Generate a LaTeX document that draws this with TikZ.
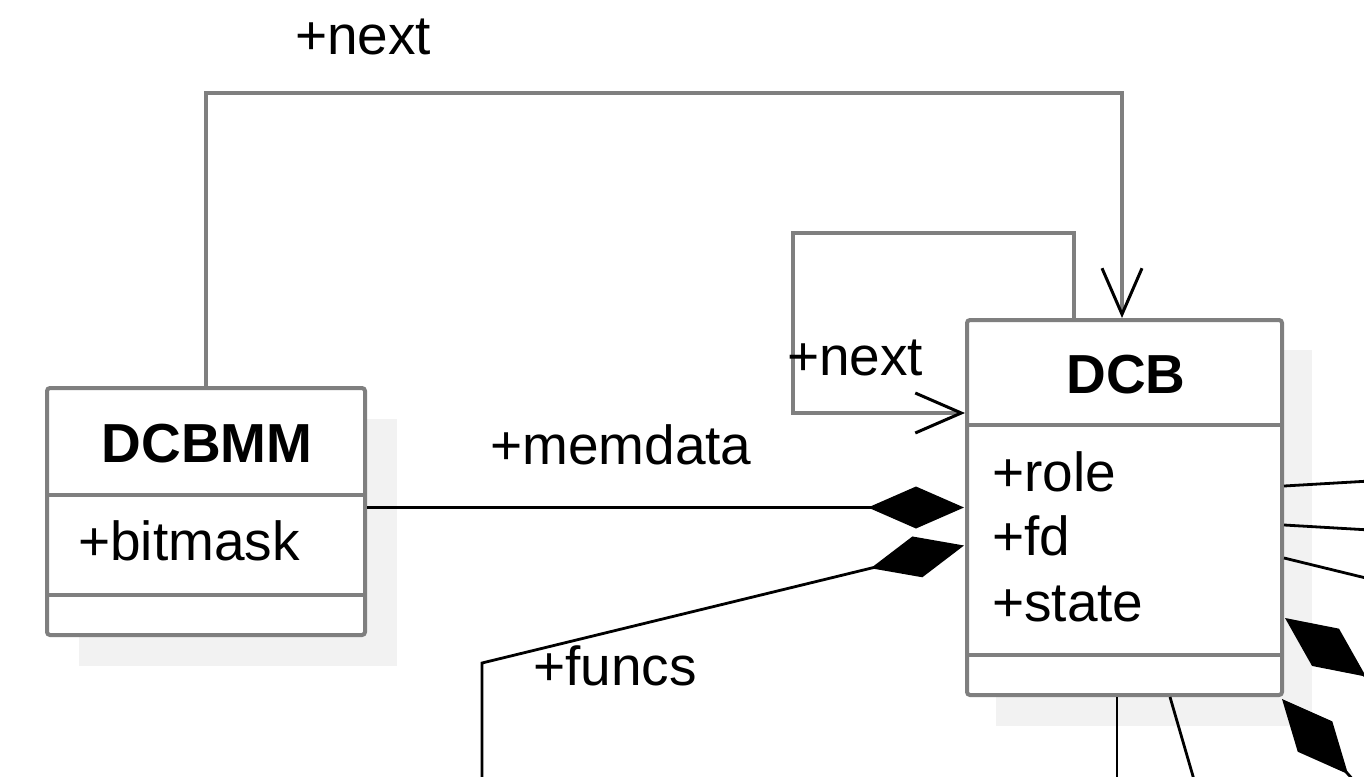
\documentclass[tikz,border=0pt]{standalone}
\usepackage{fontspec}
\setmainfont{Liberation Sans}
\usetikzlibrary{arrows.meta,calc}
\definecolor{edgegray}{HTML}{7F7F7F}
\definecolor{shadowgray}{HTML}{F2F2F2}
\tikzset{
  shadowbox/.style={fill=shadowgray, draw=none, inner sep=0pt},
  classbox/.style={draw=edgegray, line width=4pt, fill=white, rounded corners=3pt, inner sep=0pt},
  divider/.style={draw=edgegray, line width=4pt},
  member/.style={font=\fontsize{55}{66}\selectfont, inner sep=0pt, anchor=base west},
  classname/.style={font=\bfseries\fontsize{55}{66}\selectfont, inner sep=0pt, anchor=base},
  assoc/.style={draw=edgegray, line width=4.5pt,
    -{Straight Barb[length=46pt,width=40pt,line width=3pt,black]}},
  comp/.style={draw=black, line width=2.8pt,
    {Diamond[length=96pt,width=42pt,black]}-},
  widecomp/.style={draw=black, line width=2.8pt,
    {Diamond[length=100pt,width=46pt,black]}-},
  link/.style={draw=black, line width=2.8pt},
}
\begin{document}
\begin{tikzpicture}[x=1pt,y=-1pt]
  \useasboundingbox (0,0) rectangle (1364,776);
  \clip (0,0) rectangle (1364,776);

  % drop shadows
  \node[shadowbox, minimum width=318pt, minimum height=247pt] (dcbmmShadow) at (238,542.5) {};
  \node[shadowbox, minimum width=316pt, minimum height=376pt] (dcbShadow) at (1154,538) {};

  % class DCBMM
  \node[classbox, minimum width=318pt, minimum height=247pt] (dcbmm) at (206,511.5) {};
  \draw[divider] ($(dcbmm.north west)+(0,109)$) -- ($(dcbmm.north east)+(0,109)$);
  \draw[divider] ($(dcbmm.north west)+(0,209)$) -- ($(dcbmm.north east)+(0,209)$);
  \node[classname] (dcbmmName) at (207,462) {DCBMM};
  \node[member] (dcbmmBitmask) at (78,560) {+bitmask};

  % class DCB
  \node[classbox, minimum width=315pt, minimum height=375pt] (dcb) at (1124.5,507.5) {};
  \draw[divider] ($(dcb.north west)+(0,107)$) -- ($(dcb.north east)+(0,107)$);
  \draw[divider] ($(dcb.north west)+(0,337)$) -- ($(dcb.north east)+(0,337)$);
  \node[classname] (dcbName) at (1126,393) {DCB};
  \node[member] (dcbRole) at (992,491) {+role};
  \node[member] (dcbFd) at (992,555) {+fd};
  \node[member] (dcbState) at (992,621) {+state};

  % association DCBMM -> DCB
  \draw[assoc] (dcbmm.north) -- ++(0,-293) -| ($(dcb.north)+(-2.5,0)$);
  \node[member] (nextTop) at (295,55) {+next};

  % self association on DCB
  \draw[assoc] ($(dcb.north)+(-50.5,0)$) |- (793,233) |- ($(dcb.west)+(0,-94.5)$);
  \node[member] (nextSelf) at (787,375) {+next};

  % composition memdata
  \draw[comp] ($(dcb.west)+(-1,0)$) -- (dcb.west -| dcbmm.east);
  \node[member] (memdataLabel) at (490,464) {+memdata};

  % composition funcs
  \coordinate (funcsEnd) at (482,790);
  \draw[comp] ($(dcb.west)+(-1,38)$) -- (482,663) -- (funcsEnd);
  \node[member] (funcsLabel) at (533,685) {+funcs};

  % connectors leaving to the right and below
  \coordinate (outA) at (1370,481);
  \coordinate (outB) at (1370,530);
  \coordinate (outC) at (1370,579);
  \coordinate (outD) at (1444,733);
  \coordinate (outE) at (1413,848);
  \coordinate (outF) at (1117,790);
  \coordinate (outG) at (1197,790);
  \draw[link] ($(dcb.east)+(0,-21.5)$) -- (outA);
  \draw[link] ($(dcb.east)+(0,17.5)$) -- (outB);
  \draw[link] ($(dcb.east)+(0,50.5)$) -- (outC);
  \draw[widecomp] ($(dcb.east)+(1,110.5)$) -- (outD);
  \draw[widecomp] ($(dcb.south east)+(-2,2)$) -- (outE);
  \draw[link] ($(dcb.south)+(-7.5,0)$) -- (outF);
  \draw[link] ($(dcb.south)+(45.5,0)$) -- (outG);
\end{tikzpicture}
\end{document}
